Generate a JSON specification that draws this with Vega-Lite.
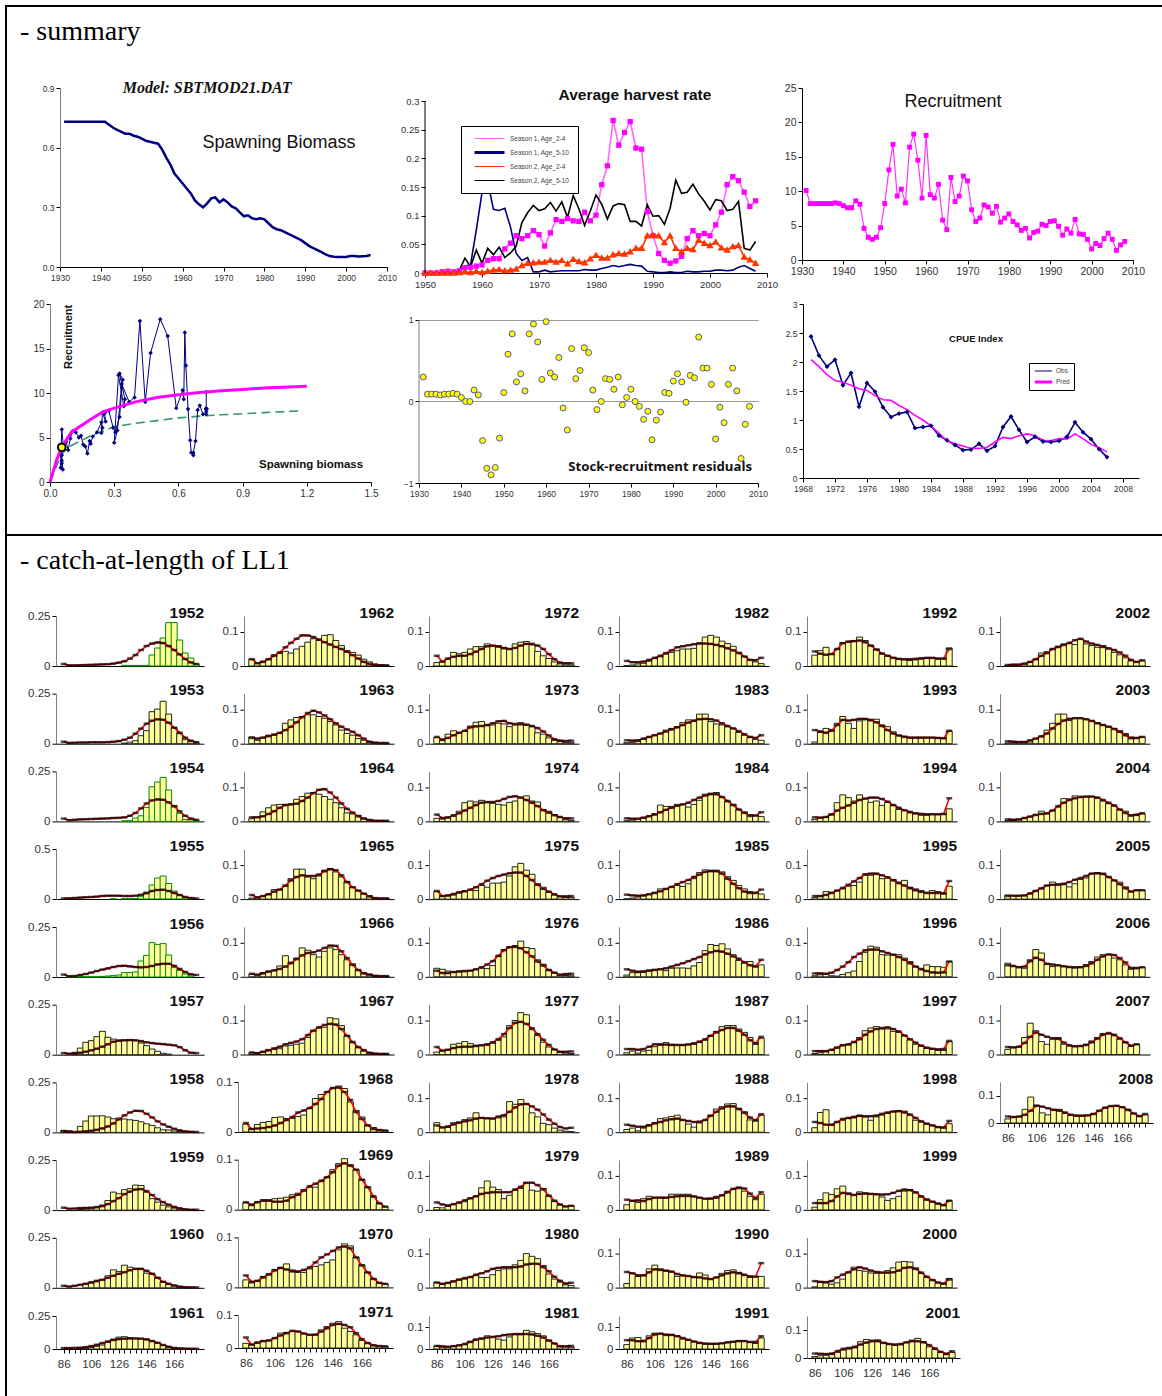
{"$schema":"https://vega.github.io/schema/vega-lite/v6.json","padding":{"left":5,"top":5,"right":0,"bottom":0},"background":"white","spacing":0,
"resolve":{"scale":{"color":"independent","strokeWidth":"independent"},"legend":{"color":"independent","strokeWidth":"independent"}},
"config":{"view":{"stroke":null},"axis":{"grid":false,"labelFont":"Liberation Sans","labelColor":"#333","domainColor":"#000","tickColor":"#000","labelFontSize":11.5,"tickSize":4,"labelPadding":2,"labelFlush":false,"labelOverlap":false},"axisY":{"domainColor":"#808080"},"bar":{"fill":"#FFFF99","stroke":"#222","strokeWidth":1},"line":{"color":"#f00","strokeWidth":1.6},"tick":{"color":"#000","thickness":2.5,"size":6},"header":{"labelFont":"Liberation Sans","labelFontSize":15.5,"labelFontWeight":"bold","labelColor":"#111","labelAnchor":"end","labelAlign":"right","labelPadding":-5},"text":{"font":"Liberation Sans"},"title":{"font":"Liberation Serif","fontSize":28,"fontWeight":"normal","anchor":"start","orient":"bottom","dx":13,"offset":11}},
"hconcat":[
{"width":2,"height":1391,"view":{"fill":"#000"},"data":{"values":[]},"mark":"point","encoding":{}},
{"spacing":0,"resolve":{"scale":{"color":"independent","strokeWidth":"independent"},"legend":{"color":"independent","strokeWidth":"independent"}},"vconcat":[
{"width":1155,"height":2,"view":{"fill":"#000"},"title":"- summary","data":{"values":[]},"mark":"point","encoding":{}},
{"width":1,"height":34,"data":{"values":[]},"mark":"point","encoding":{}},
{"data":{"values":"year,sb,rec,res\n1931,0.73,10.1,0.3\n1932,0.73,8.2,0.09\n1933,0.73,8.2,0.09\n1934,0.73,8.2,0.09\n1935,0.73,8.2,0.08\n1936,0.73,8.2,0.09\n1937,0.73,8.2,0.09\n1938,0.73,8.3,0.1\n1939,0.73,8.2,0.09\n1940,0.73,7.9,0.05\n1941,0.73,7.6,0\n1942,0.715,7.6,0\n1943,0.7,8.6,0.14\n1944,0.69,8.1,0.08\n1945,0.68,4.6,-0.48\n1946,0.67,3.3,-0.82\n1947,0.67,3,-0.9\n1948,0.66,3.3,-0.81\n1949,0.655,4.7,-0.45\n1950,0.645,8.2,0.11\n1951,0.635,13.1,0.58\n1952,0.63,16.8,0.83\n1953,0.625,9.3,0.24\n1954,0.62,10.3,0.34\n1955,0.59,8.3,0.13\n1956,0.55,16.4,0.83\n1957,0.515,18.3,0.95\n1958,0.47,14.5,0.73\n1959,0.445,9,0.27\n1960,0.42,18.1,0.98\n1961,0.395,9.5,0.35\n1962,0.37,9,0.3\n1963,0.335,11,0.54\n1964,0.315,5.8,-0.08\n1965,0.3,4.4,-0.35\n1966,0.32,12,0.65\n1967,0.345,8.5,0.28\n1968,0.35,9.3,0.38\n1969,0.325,12.2,0.66\n1970,0.34,11.5,0.6\n1971,0.325,7.3,0.14\n1972,0.305,5.6,-0.1\n1973,0.295,6.1,0\n1974,0.275,8,0.28\n1975,0.255,7.7,0.27\n1976,0.26,6.8,0.15\n1977,0.245,7.8,0.3\n1978,0.24,5.5,-0.04\n1979,0.245,6.1,0.05\n1980,0.24,6.7,0.15\n1981,0.22,5.6,0\n1982,0.2,5.1,-0.06\n1983,0.19,4.3,-0.22\n1984,0.185,4.6,-0.12\n1985,0.175,3.2,-0.47\n1986,0.165,4,-0.23\n1987,0.155,4.2,-0.13\n1988,0.145,5.2,0.11\n1989,0.135,5,0.1\n1990,0.12,5.6,0.25\n1991,0.105,5.7,0.34\n1992,0.095,4.9,0.24\n1993,0.085,3.6,-0.01\n1994,0.075,4.5,0.32\n1995,0.063,3.9,0.29\n1996,0.055,5.9,0.79\n1997,0.052,3.8,0.41\n1998,0.05,3.7,0.41\n1999,0.05,3,0.21\n2000,0.05,1.6,-0.46\n2001,0.055,2.4,-0.07\n2002,0.055,2.1,-0.26\n2003,0.053,3.1,0.21\n2004,0.054,3.9,0.41\n2005,0.055,3,0.13\n2006,0.06,1.4,-0.7\n2007,,2.2,-0.28\n2008,,2.7,-0.06","format":{"type":"csv","parse":{"year":"number","sb":"number","rec":"number","res":"number"}}},"spacing":0,"resolve":{"scale":{"color":"independent","strokeWidth":"independent"},"legend":{"color":"independent","strokeWidth":"independent"}},"vconcat":[
{"bounds":"flush","spacing":0,"resolve":{"scale":{"color":"independent","strokeWidth":"independent"},"legend":{"color":"independent","strokeWidth":"independent"}},"hconcat":[
{"width":53,"height":1,"data":{"values":[]},"mark":"point","encoding":{}},
{"width":327,"height":179,"layer":[
{"mark":{"type":"line","color":"#000080","strokeWidth":2.5},"encoding":{"x":{"field":"year","type":"quantitative","title":null,"scale":{"domain":[1930,2010],"nice":false},"axis":{"values":[1930,1940,1950,1960,1970,1980,1990,2000,2010],"format":"d","labelFontSize":8.5}},"y":{"field":"sb","type":"quantitative","title":null,"scale":{"domain":[0,0.9],"nice":false},"axis":{"values":[0,0.3,0.6,0.9],"format":".1f","labelFontSize":8.5}}}},
{"data":{"values":[{}]},"mark":{"type":"text","font":"Liberation Serif","fontSize":16,"fontWeight":"bold","fontStyle":"italic","color":"#111"},"encoding":{"x":{"datum":1966},"y":{"datum":0.9},"text":{"value":"Model: SBTMOD21.DAT"}}},
{"data":{"values":[{}]},"mark":{"type":"text","fontSize":18,"color":"#111"},"encoding":{"x":{"datum":1983.6},"y":{"datum":0.623},"text":{"value":"Spawning Biomass"}}}]},
{"width":38,"height":1,"data":{"values":[]},"mark":"point","encoding":{}},
{"data":{"values":"year,\"Season 1, Age_2-4\",\"Season 1, Age_5-10\",\"Season 2, Age_2-4\",\"Season 2, Age_5-10\"\n1950,0,0,0,0\n1951,0,0,0,0\n1952,0,0,0,0\n1953,0.002,0,0,0\n1954,0.003,0,0,0\n1955,0.002,0,0,0\n1956,0.004,0.004,0.001,0.004\n1957,0.009,0.012,0.002,0.026\n1958,0.01,0.015,0.001,0.011\n1959,0.012,0.075,0.003,0.04\n1960,0.014,0.14,0.001,0.017\n1961,0.022,0.16,0.003,0.043\n1962,0.025,0.111,0.005,0.032\n1963,0.025,0.109,0.006,0.045\n1964,0.042,0.113,0.004,0.027\n1965,0.052,0.08,0.005,0.035\n1966,0.065,0.034,0.007,0.047\n1967,0.06,0.022,0.013,0.088\n1968,0.065,0.027,0.017,0.105\n1969,0.074,0.002,0.018,0.118\n1970,0.067,0.002,0.019,0.109\n1971,0.047,0.005,0.019,0.112\n1972,0.07,0.002,0.022,0.123\n1973,0.093,0.003,0.019,0.108\n1974,0.09,0.004,0.022,0.124\n1975,0.095,0.004,0.016,0.097\n1976,0.091,0.004,0.024,0.135\n1977,0.09,0.004,0.02,0.112\n1978,0.106,0.006,0.018,0.083\n1979,0.091,0.005,0.025,0.108\n1980,0.101,0.005,0.031,0.136\n1981,0.154,0.008,0.026,0.12\n1982,0.187,0.01,0.026,0.094\n1983,0.266,0.013,0.032,0.117\n1984,0.223,0.011,0.034,0.121\n1985,0.245,0.013,0.033,0.119\n1986,0.264,0.015,0.037,0.09\n1987,0.218,0.013,0.043,0.09\n1988,0.216,0.012,0.043,0.082\n1989,0.107,0.003,0.065,0.119\n1990,0.065,0.002,0.066,0.099\n1991,0.034,0.001,0.065,0.1\n1992,0.022,0.001,0.053,0.085\n1993,0.017,0.002,0.065,0.113\n1994,0.021,0.001,0.043,0.162\n1995,0.029,0.001,0.037,0.139\n1996,0.06,0.003,0.043,0.141\n1997,0.074,0.002,0.041,0.155\n1998,0.065,0.002,0.057,0.138\n1999,0.069,0.003,0.052,0.125\n2000,0.065,0.003,0.048,0.11\n2001,0.084,0.005,0.054,0.128\n2002,0.106,0.005,0.044,0.126\n2003,0.154,0.004,0.04,0.109\n2004,0.168,0.005,0.046,0.111\n2005,0.161,0.01,0.048,0.125\n2006,0.141,0.013,0.028,0.043\n2007,0.116,0.008,0.023,0.04\n2008,0.126,0.003,0.017,0.055","format":{"type":"csv","parse":null}},"width":342,"height":185,"title":{"text":"Average harvest rate","orient":"top","anchor":"middle","dx":39,"offset":-15,"font":"Liberation Sans","fontSize":15.5,"fontWeight":"bold","color":"#111"},"transform":[{"fold":["Season 1, Age_2-4","Season 1, Age_5-10","Season 2, Age_2-4","Season 2, Age_5-10"],"as":["k","v"]}],"encoding":{"x":{"field":"year","type":"quantitative","title":null,"scale":{"domain":[1950,2010],"nice":false},"axis":{"values":[1950,1960,1970,1980,1990,2000,2010],"format":"d","labelFontSize":9.5}},"y":{"field":"v","type":"quantitative","title":null,"scale":{"domain":[0,0.3227],"nice":false},"axis":{"values":[0,0.05,0.1,0.15,0.2,0.25,0.3],"format":".2~g","labelFontSize":9.5,"domain":false}}},"layer":[
{"mark":{"type":"line"},"encoding":{"color":{"field":"k","type":"nominal","scale":{"range":["#FF66FF","#000080","#FF3300","#000000"]},"legend":{"orient":"none","legendX":36,"legendY":38,"title":null,"strokeColor":"#000","fillColor":"#fff","padding":8,"labelFontSize":6.5,"labelColor":"#444","rowPadding":5,"clipHeight":9,"symbolType":"stroke","symbolSize":900,"symbolOffset":4,"labelOffset":4,"labelFont":"Liberation Sans"}},"strokeWidth":{"field":"k","type":"nominal","scale":{"type":"ordinal","range":[1,3,1,1]},"legend":null}}},
{"transform":[{"filter":"datum.k=='Season 1, Age_2-4'"}],"mark":{"type":"point","shape":"square","filled":true,"color":"#FF00FF","size":28,"opacity":1}},
{"transform":[{"filter":"datum.k=='Season 2, Age_2-4'"}],"mark":{"type":"point","shape":"triangle-up","fill":"#FFFF00","stroke":"#FF3300","size":16,"opacity":1}},
{"transform":[{"filter":"datum.k=='Season 1, Age_2-4'&&datum.year==1950"}],"mark":{"type":"rule","color":"#000"},"encoding":{"y":{"datum":0},"y2":{"datum":0.3}}}]},
{"width":35,"height":1,"data":{"values":[]},"mark":"point","encoding":{}},
{"width":331,"height":172,"title":{"text":"Recruitment","orient":"top","anchor":"middle","dx":-14.5,"offset":-28,"font":"Liberation Sans","fontSize":18,"fontWeight":"normal","color":"#111"},"encoding":{"x":{"field":"year","type":"quantitative","title":null,"scale":{"domain":[1930,2010],"nice":false},"axis":{"values":[1930,1940,1950,1960,1970,1980,1990,2000,2010],"format":"d","labelFontSize":10.5}},"y":{"field":"rec","type":"quantitative","title":null,"scale":{"domain":[0,25],"nice":false},"axis":{"values":[0,5,10,15,20,25],"labelFontSize":10.5,"domainColor":"#000"}}},"layer":[
{"mark":{"type":"line","color":"#FF33FF","strokeWidth":1.2}},
{"mark":{"type":"point","shape":"square","filled":true,"color":"#FF00FF","size":24,"opacity":1}}]}
]},
{"width":1,"height":10,"data":{"values":[]},"mark":"point","encoding":{}},
{"bounds":"flush","spacing":0,"resolve":{"scale":{"color":"independent","strokeWidth":"independent"},"legend":{"color":"independent","strokeWidth":"independent"}},"hconcat":[
{"width":43,"height":1,"data":{"values":[]},"mark":"point","encoding":{}},
{"width":321,"height":178,"layer":[
{"data":{"values":[{"s":0,"r":0},{"s":0.055,"r":3.2},{"s":0.1,"r":4.1},{"s":0.2,"r":5.3},{"s":0.3,"r":6.2},{"s":0.4,"r":6.6},{"s":0.5,"r":6.9},{"s":0.6,"r":7.2},{"s":0.7,"r":7.4},{"s":0.8,"r":7.55},{"s":1,"r":7.8},{"s":1.18,"r":8}]},"mark":{"type":"line","color":"#339966","strokeWidth":1.6,"strokeDash":[9,5]},"encoding":{"x":{"field":"s","type":"quantitative","title":null,"scale":{"domain":[0,1.5],"nice":false},"axis":{"values":[0,0.3,0.6,0.9,1.2,1.5],"format":".1f","labelFontSize":10}},"y":{"field":"r","type":"quantitative","title":null,"scale":{"domain":[0,20],"nice":false},"axis":{"values":[0,5,10,15,20],"labelFontSize":10}}}},
{"mark":{"type":"line","color":"#000080","strokeWidth":1},"encoding":{"x":{"field":"sb","type":"quantitative"},"y":{"field":"rec","type":"quantitative"},"order":{"field":"year"}}},
{"mark":{"type":"point","shape":"diamond","filled":true,"color":"#000080","size":20,"opacity":1},"encoding":{"x":{"field":"sb","type":"quantitative"},"y":{"field":"rec","type":"quantitative"}}},
{"data":{"values":[{"s":0,"r":0},{"s":0.03,"r":2.4},{"s":0.055,"r":3.9},{"s":0.1,"r":5.6},{"s":0.2,"r":7.2},{"s":0.25,"r":7.9},{"s":0.3,"r":8.3},{"s":0.4,"r":9},{"s":0.5,"r":9.5},{"s":0.6,"r":9.8},{"s":0.7,"r":10.05},{"s":0.8,"r":10.25},{"s":0.9,"r":10.4},{"s":1,"r":10.55},{"s":1.2,"r":10.75}]},"mark":{"type":"line","color":"#FF00FF","strokeWidth":3},"encoding":{"x":{"field":"s","type":"quantitative"},"y":{"field":"r","type":"quantitative"}}},
{"data":{"values":[{}]},"mark":{"type":"point","filled":true,"fill":"#FFFF00","stroke":"#000","size":60,"opacity":1},"encoding":{"x":{"datum":0.055},"y":{"datum":3.9}}},
{"data":{"values":[{}]},"mark":{"type":"text","fontSize":11,"fontWeight":"bold","angle":270,"color":"#111"},"encoding":{"x":{"datum":0.089},"y":{"datum":16.3},"text":{"value":"Recruitment"}}},
{"data":{"values":[{}]},"mark":{"type":"text","fontSize":11.5,"fontWeight":"bold","color":"#111"},"encoding":{"x":{"datum":1.22},"y":{"datum":1.92},"text":{"value":"Spawning biomass"}}}]},
{"width":48,"height":1,"data":{"values":[]},"mark":"point","encoding":{}},
{"width":339,"height":179,"layer":[
{"mark":{"type":"point","filled":true,"fill":"#FFFF00","stroke":"#555599","strokeWidth":1,"size":36,"opacity":1},"encoding":{"x":{"field":"year","type":"quantitative","title":null,"scale":{"domain":[1930,2010],"nice":false},"axis":{"values":[1930,1940,1950,1960,1970,1980,1990,2000,2010],"format":"d","labelFontSize":8.5}},"y":{"field":"res","type":"quantitative","title":null,"scale":{"domain":[-1,1.196],"nice":false},"axis":{"values":[-1,0,1],"format":"d","labelFontSize":8.5,"grid":true,"gridColor":"#999","domain":false}}}},
{"data":{"values":[{}]},"mark":{"type":"rule","color":"#808080"},"encoding":{"x":{"datum":1930},"y":{"datum":-1},"y2":{"datum":1}}},
{"data":{"values":[{}]},"mark":{"type":"text","font":"Open Sans","fontSize":13.2,"fontWeight":"bold","color":"#111"},"encoding":{"x":{"datum":1986.9},"y":{"datum":-0.8},"text":{"value":"Stock-recruitment residuals"}}}]},
{"width":45,"height":1,"data":{"values":[]},"mark":"point","encoding":{}},
{"data":{"values":"year,Obs,Pred\n1969,2.44,2.04\n1970,2.11,1.92\n1971,1.92,1.78\n1972,2.04,1.68\n1973,1.6,1.65\n1974,1.81,1.6\n1975,1.23,1.54\n1976,1.64,1.51\n1977,1.49,1.42\n1978,1.22,1.35\n1979,1.05,1.34\n1980,1.11,1.25\n1981,1.14,1.18\n1982,0.86,1.08\n1983,0.88,1\n1984,0.9,0.9\n1985,0.73,0.77\n1986,0.65,0.64\n1987,0.57,0.59\n1988,0.48,0.55\n1989,0.49,0.51\n1990,0.59,0.51\n1991,0.47,0.53\n1992,0.55,0.62\n1993,0.88,0.7\n1994,1.06,0.68\n1995,0.83,0.73\n1996,0.62,0.76\n1997,0.71,0.73\n1998,0.63,0.65\n1999,0.62,0.64\n2000,0.64,0.68\n2001,0.71,0.67\n2002,0.96,0.76\n2003,0.79,0.68\n2004,0.67,0.58\n2005,0.5,0.52\n2006,0.36,0.45","format":{"type":"csv","parse":null}},"width":336,"height":174,"title":{"text":"CPUE Index","orient":"top","anchor":"middle","dx":5,"offset":-43,"font":"Liberation Sans","fontSize":9.5,"fontWeight":"bold","color":"#111"},"transform":[{"fold":["Obs","Pred"],"as":["k","v"]}],"encoding":{"x":{"field":"year","type":"quantitative","title":null,"scale":{"domain":[1968,2010],"nice":false},"axis":{"values":[1968,1972,1976,1980,1984,1988,1992,1996,2000,2004,2008],"format":"d","labelFontSize":8.5}},"y":{"field":"v","type":"quantitative","title":null,"scale":{"domain":[0,3],"nice":false},"axis":{"values":[0,0.5,1,1.5,2,2.5,3],"format":".2~g","labelFontSize":8.5,"domainColor":"#000"}}},"layer":[
{"mark":{"type":"line"},"encoding":{"color":{"field":"k","type":"nominal","scale":{"range":["#000080","#FF00FF"]},"legend":{"orient":"none","legendX":226,"legendY":59,"title":null,"strokeColor":"#000","fillColor":"#fff","padding":4,"labelFontSize":6.5,"labelColor":"#444","rowPadding":3,"clipHeight":8,"symbolType":"stroke","symbolSize":300,"labelOffset":2,"labelFont":"Liberation Sans"}},"strokeWidth":{"field":"k","type":"nominal","scale":{"type":"ordinal","range":[1,3]},"legend":null}}},
{"transform":[{"filter":"datum.k=='Obs'"}],"mark":{"type":"point","shape":"diamond","filled":true,"color":"#000080","size":24,"opacity":1}}]}
]}]},
{"width":1,"height":36,"data":{"values":[]},"mark":"point","encoding":{}},
{"width":1155,"height":2,"view":{"fill":"#000"},"title":"- catch-at-length of LL1","data":{"values":[]},"mark":"point","encoding":{}},
{"width":1,"height":30,"data":{"values":[]},"mark":"point","encoding":{}},
{"data":{"values":"yr,x,o,p\n1952,86,,.01\n1952,90,,.003\n1952,94,,.003\n1952,98,,.004\n1952,102,,.005\n1952,106,,.006\n1952,110,,.007\n1952,114,,.008\n1952,118,,.009\n1952,122,,.012\n1952,126,,.017\n1952,130,.003,.024\n1952,134,.003,.037\n1952,138,.003,.055\n1952,142,.003,.08\n1952,146,.003,.1\n1952,150,.055,.112\n1952,154,.09,.118\n1952,158,.14,.115\n1952,162,.217,.1\n1952,166,.217,.08\n1952,170,.13,.058\n1952,174,.065,.035\n1952,178,.04,.018\n1952,182,.01,.01\n1953,86,,.01\n1953,90,,.004\n1953,94,,.005\n1953,98,,.006\n1953,102,,.006\n1953,106,,.007\n1953,110,,.007\n1953,114,,.007\n1953,118,,.008\n1953,122,,.01\n1953,126,,.013\n1953,130,.003,.02\n1953,134,.008,.03\n1953,138,.015,.05\n1953,142,.04,.075\n1953,146,.065,.1\n1953,150,.16,.115\n1953,154,.173,.122\n1953,158,.212,.12\n1953,162,.148,.105\n1953,166,.08,.08\n1953,170,.05,.055\n1953,174,.02,.03\n1953,178,.01,.015\n1953,182,.005,.008\n1954,86,,.014\n1954,90,,.006\n1954,94,,.008\n1954,98,,.01\n1954,102,,.011\n1954,106,,.012\n1954,110,,.013\n1954,114,,.014\n1954,118,,.015\n1954,122,,.017\n1954,126,,.018\n1954,130,.003,.02\n1954,134,.003,.028\n1954,138,.017,.042\n1954,142,.028,.065\n1954,146,.07,.09\n1954,150,.173,.105\n1954,154,.197,.11\n1954,158,.22,.108\n1954,162,.157,.095\n1954,166,.08,.075\n1954,170,.04,.05\n1954,174,.01,.028\n1954,178,.008,.014\n1954,182,.005,.008\n1955,86,,.005\n1955,90,,.007\n1955,94,,.01\n1955,98,,.014\n1955,102,,.018\n1955,106,,.02\n1955,110,,.024\n1955,114,,.03\n1955,118,,.033\n1955,122,.003,.033\n1955,126,,.033\n1955,130,.003,.03\n1955,134,.003,.03\n1955,138,.005,.033\n1955,142,.027,.042\n1955,146,.07,.058\n1955,150,.14,.08\n1955,154,.21,.09\n1955,158,.23,.093\n1955,162,.155,.08\n1955,166,.08,.06\n1955,170,.04,.04\n1955,174,.015,.02\n1955,178,.01,.01\n1955,182,,.005\n1956,86,,.012\n1956,90,.001,.004\n1956,94,.001,.005\n1956,98,.001,.01\n1956,102,.001,.015\n1956,106,.001,.022\n1956,110,.001,.03\n1956,114,.003,.037\n1956,118,.005,.043\n1956,122,.007,.05\n1956,126,.01,.055\n1956,130,.022,.056\n1956,134,.022,.053\n1956,138,.025,.05\n1956,142,.08,.048\n1956,146,.108,.05\n1956,150,.172,.055\n1956,154,.163,.063\n1956,158,.167,.066\n1956,162,.11,.066\n1956,166,.047,.056\n1956,170,.033,.04\n1956,174,.015,.025\n1956,178,.005,.014\n1956,182,,.01\n1957,86,,.008\n1957,90,,.005\n1957,94,.012,.006\n1957,98,.033,.01\n1957,102,.062,.015\n1957,106,.07,.022\n1957,110,.09,.03\n1957,114,.117,.04\n1957,118,.087,.052\n1957,122,.078,.065\n1957,126,.073,.07\n1957,130,.073,.072\n1957,134,.073,.073\n1957,138,.07,.072\n1957,142,.058,.068\n1957,146,.045,.062\n1957,150,.028,.058\n1957,154,.017,.055\n1957,158,.007,.053\n1957,162,.003,.05\n1957,166,,.047\n1957,170,,.038\n1957,174,,.022\n1957,178,,.01\n1957,182,,.008\n1958,86,.01,.006\n1958,90,.008,.003\n1958,94,,.002\n1958,98,.03,.003\n1958,102,.057,.005\n1958,106,.082,.008\n1958,110,.082,.013\n1958,114,.083,.02\n1958,118,.077,.03\n1958,122,.068,.045\n1958,126,.072,.065\n1958,130,.067,.085\n1958,134,.063,.1\n1958,138,.06,.108\n1958,142,.053,.107\n1958,146,.043,.093\n1958,150,.035,.075\n1958,154,.023,.055\n1958,158,.013,.04\n1958,162,.012,.028\n1958,166,.007,.018\n1958,170,.004,.01\n1958,174,.003,.005\n1958,178,.002,.003\n1958,182,,.002\n1959,86,,.012\n1959,90,,.007\n1959,94,,.008\n1959,98,.003,.01\n1959,102,.005,.011\n1959,106,.006,.012\n1959,110,.012,.015\n1959,114,.025,.02\n1959,118,.048,.03\n1959,122,.09,.045\n1959,126,.082,.06\n1959,130,.102,.08\n1959,134,.107,.092\n1959,138,.125,.103\n1959,142,.123,.105\n1959,146,.09,.095\n1959,150,.057,.075\n1959,154,.04,.055\n1959,158,.025,.04\n1959,162,.016,.027\n1959,166,.01,.016\n1959,170,.005,.009\n1959,174,.003,.004\n1959,178,,.002\n1959,182,,.002\n1960,86,,.01\n1960,90,,.006\n1960,94,,.01\n1960,98,,.015\n1960,102,.02,.02\n1960,106,.023,.028\n1960,110,.03,.035\n1960,114,.04,.04\n1960,118,.06,.05\n1960,122,.09,.06\n1960,126,.082,.07\n1960,130,.113,.078\n1960,134,.103,.088\n1960,138,.092,.095\n1960,142,.093,.095\n1960,146,.073,.085\n1960,150,.07,.07\n1960,154,.05,.05\n1960,158,.03,.03\n1960,162,.016,.02\n1960,166,.01,.012\n1960,170,.005,.006\n1960,174,.003,.003\n1960,178,.002,.002\n1960,182,,.002\n1961,86,,.007\n1961,90,,.007\n1961,94,,.008\n1961,98,.002,.01\n1961,102,.005,.014\n1961,106,.012,.022\n1961,110,.02,.032\n1961,114,.03,.045\n1961,118,.05,.057\n1961,122,.075,.068\n1961,126,.09,.075\n1961,130,.093,.078\n1961,134,.085,.08\n1961,138,.08,.08\n1961,142,.08,.078\n1961,146,.075,.072\n1961,150,.06,.06\n1961,154,.045,.047\n1961,158,.03,.03\n1961,162,.015,.017\n1961,166,.005,.008\n1961,170,.003,.005\n1961,174,.002,.003\n1961,178,,.002\n1961,182,,.002\n1962,86,.02,.02\n1962,90,.008,.008\n1962,94,.014,.012\n1962,98,.02,.02\n1962,102,.033,.03\n1962,106,.037,.04\n1962,110,.043,.055\n1962,114,.038,.068\n1962,118,.05,.08\n1962,122,.058,.09\n1962,126,.07,.09\n1962,130,.08,.085\n1962,134,.075,.078\n1962,138,.09,.07\n1962,142,.092,.063\n1962,146,.075,.056\n1962,150,.06,.05\n1962,154,.045,.042\n1962,158,.04,.032\n1962,162,.032,.022\n1962,166,.02,.012\n1962,170,.012,.006\n1962,174,.006,.003\n1962,178,.003,.002\n1962,182,.002,.002\n1963,86,.02,.017\n1963,90,.01,.015\n1963,94,.017,.018\n1963,98,.025,.022\n1963,102,.025,.027\n1963,106,.03,.032\n1963,110,.06,.04\n1963,114,.07,.05\n1963,118,.077,.063\n1963,122,.08,.078\n1963,126,.085,.09\n1963,130,.085,.097\n1963,134,.08,.092\n1963,138,.075,.083\n1963,142,.065,.072\n1963,146,.055,.06\n1963,150,.04,.05\n1963,154,.03,.042\n1963,158,.025,.035\n1963,162,.015,.025\n1963,166,.01,.015\n1963,170,.006,.006\n1963,174,.004,.003\n1963,178,.002,.002\n1963,182,.002,.002\n1964,86,.008,.012\n1964,90,.012,.012\n1964,94,.028,.015\n1964,98,.04,.022\n1964,102,.048,.03\n1964,106,.05,.04\n1964,110,.05,.048\n1964,114,.05,.05\n1964,118,.065,.052\n1964,122,.073,.06\n1964,126,.083,.07\n1964,130,.085,.083\n1964,134,.08,.093\n1964,138,.073,.095\n1964,142,.065,.085\n1964,146,.055,.07\n1964,150,.04,.053\n1964,154,.025,.037\n1964,158,.022,.026\n1964,162,.018,.015\n1964,166,.01,.008\n1964,170,.005,.004\n1964,174,.002,.002\n1964,178,.001,.002\n1964,182,.001,.002\n1965,86,.003,.012\n1965,90,.004,.005\n1965,94,.008,.009\n1965,98,.015,.014\n1965,102,.028,.022\n1965,106,.028,.028\n1965,110,.038,.04\n1965,114,.06,.055\n1965,118,.088,.065\n1965,122,.088,.07\n1965,126,.065,.068\n1965,130,.06,.068\n1965,134,.068,.072\n1965,138,.085,.082\n1965,142,.09,.088\n1965,146,.08,.085\n1965,150,.065,.07\n1965,154,.052,.05\n1965,158,.035,.035\n1965,162,.025,.025\n1965,166,.016,.016\n1965,170,.01,.008\n1965,174,.003,.003\n1965,178,.002,.002\n1965,182,.002,.002\n1966,86,.007,.009\n1966,90,.007,.006\n1966,94,.012,.01\n1966,98,.017,.015\n1966,102,.018,.019\n1966,106,.032,.023\n1966,110,.062,.03\n1966,114,.043,.04\n1966,118,.055,.052\n1966,122,.085,.063\n1966,126,.078,.07\n1966,130,.065,.072\n1966,134,.058,.077\n1966,138,.075,.085\n1966,142,.085,.092\n1966,146,.08,.091\n1966,150,.065,.075\n1966,154,.05,.055\n1966,158,.038,.035\n1966,162,.02,.02\n1966,166,.012,.01\n1966,170,.008,.006\n1966,174,.003,.003\n1966,178,.002,.002\n1966,182,.002,.002\n1967,86,.005,.006\n1967,90,.003,.004\n1967,94,.007,.008\n1967,98,.015,.012\n1967,102,.015,.018\n1967,106,.017,.023\n1967,110,.025,.03\n1967,114,.027,.034\n1967,118,.03,.038\n1967,122,.033,.045\n1967,126,.05,.057\n1967,130,.07,.07\n1967,134,.078,.08\n1967,138,.08,.087\n1967,142,.108,.09\n1967,146,.105,.088\n1967,150,.085,.075\n1967,154,.055,.055\n1967,158,.035,.037\n1967,162,.02,.022\n1967,166,.01,.013\n1967,170,.005,.005\n1967,174,.002,.003\n1967,178,.001,.002\n1967,182,.001,.002\n1968,86,.016,.018\n1968,90,.006,.006\n1968,94,.015,.007\n1968,98,.019,.008\n1968,102,.021,.01\n1968,106,.029,.013\n1968,110,.03,.018\n1968,114,.027,.024\n1968,118,.027,.03\n1968,122,.031,.039\n1968,126,.034,.043\n1968,130,.047,.048\n1968,134,.067,.056\n1968,138,.075,.066\n1968,142,.08,.08\n1968,146,.088,.088\n1968,150,.092,.089\n1968,154,.087,.08\n1968,158,.06,.064\n1968,162,.043,.04\n1968,166,.03,.026\n1968,170,.014,.013\n1968,174,.009,.006\n1968,178,.004,.004\n1968,182,.003,.003\n1969,86,.014,.015\n1969,90,.008,.01\n1969,94,.016,.015\n1969,98,.02,.018\n1969,102,.02,.018\n1969,106,.022,.016\n1969,110,.023,.016\n1969,114,.025,.018\n1969,118,.03,.025\n1969,122,.033,.03\n1969,126,.04,.038\n1969,130,.045,.047\n1969,134,.045,.052\n1969,138,.056,.058\n1969,142,.065,.065\n1969,146,.08,.075\n1969,150,.092,.088\n1969,154,.102,.093\n1969,158,.09,.088\n1969,162,.08,.08\n1969,166,.06,.06\n1969,170,.045,.045\n1969,174,.025,.027\n1969,178,.012,.013\n1969,182,.006,.006\n1970,86,.015,.024\n1970,90,.009,.011\n1970,94,.014,.013\n1970,98,.022,.02\n1970,102,.027,.026\n1970,106,.036,.034\n1970,110,.04,.039\n1970,114,.047,.036\n1970,118,.035,.032\n1970,122,.03,.032\n1970,126,.03,.035\n1970,130,.037,.04\n1970,134,.042,.05\n1970,138,.045,.06\n1970,142,.05,.066\n1970,146,.055,.073\n1970,150,.075,.08\n1970,154,.087,.082\n1970,158,.083,.078\n1970,162,.06,.06\n1970,166,.045,.044\n1970,170,.03,.03\n1970,174,.017,.017\n1970,178,.009,.009\n1970,182,.007,.007\n1971,86,.014,.032\n1971,90,.01,.01\n1971,94,.018,.016\n1971,98,.022,.021\n1971,102,.023,.023\n1971,106,.03,.03\n1971,110,.045,.038\n1971,114,.047,.045\n1971,118,.05,.052\n1971,122,.05,.05\n1971,126,.043,.044\n1971,130,.04,.04\n1971,134,.042,.04\n1971,138,.055,.05\n1971,142,.065,.06\n1971,146,.075,.07\n1971,150,.08,.073\n1971,154,.06,.07\n1971,158,.05,.063\n1971,162,.04,.045\n1971,166,.023,.027\n1971,170,.015,.015\n1971,174,.009,.008\n1971,178,.005,.006\n1971,182,.005,.005\n1972,86,.01,.03\n1972,90,.012,.013\n1972,94,.02,.022\n1972,98,.04,.027\n1972,102,.036,.03\n1972,106,.04,.03\n1972,110,.05,.035\n1972,114,.057,.042\n1972,118,.057,.05\n1972,122,.065,.058\n1972,126,.06,.06\n1972,130,.06,.057\n1972,134,.055,.052\n1972,138,.05,.05\n1972,142,.065,.053\n1972,146,.07,.06\n1972,150,.072,.065\n1972,154,.062,.065\n1972,158,.043,.06\n1972,162,.03,.05\n1972,166,.022,.035\n1972,170,.012,.02\n1972,174,.006,.01\n1972,178,.003,.008\n1972,182,.003,.008\n1973,86,.018,.02\n1973,90,.009,.012\n1973,94,.028,.017\n1973,98,.038,.025\n1973,102,.033,.032\n1973,106,.036,.038\n1973,110,.052,.048\n1973,114,.063,.051\n1973,118,.065,.052\n1973,122,.053,.055\n1973,126,.055,.06\n1973,130,.06,.066\n1973,134,.058,.067\n1973,138,.05,.06\n1973,142,.055,.058\n1973,146,.062,.057\n1973,150,.055,.056\n1973,154,.05,.052\n1973,158,.032,.046\n1973,162,.028,.036\n1973,166,.017,.024\n1973,170,.01,.013\n1973,174,.006,.009\n1973,178,.003,.008\n1973,182,.003,.009\n1974,86,.009,.02\n1974,90,.007,.01\n1974,94,.01,.012\n1974,98,.015,.018\n1974,102,.03,.024\n1974,106,.055,.032\n1974,110,.06,.04\n1974,114,.057,.048\n1974,118,.062,.055\n1974,122,.055,.057\n1974,126,.053,.057\n1974,130,.05,.06\n1974,134,.048,.066\n1974,138,.056,.072\n1974,142,.06,.074\n1974,146,.07,.07\n1974,150,.075,.063\n1974,154,.06,.055\n1974,158,.057,.045\n1974,162,.035,.033\n1974,166,.03,.026\n1974,170,.02,.018\n1974,174,.012,.013\n1974,178,.005,.009\n1974,182,.003,.009\n1975,86,.022,.024\n1975,90,.008,.009\n1975,94,.009,.011\n1975,98,.012,.015\n1975,102,.018,.02\n1975,106,.025,.023\n1975,110,.027,.028\n1975,114,.025,.035\n1975,118,.04,.044\n1975,122,.035,.054\n1975,126,.047,.062\n1975,130,.047,.068\n1975,134,.05,.072\n1975,138,.068,.076\n1975,142,.095,.078\n1975,146,.105,.078\n1975,150,.085,.068\n1975,154,.073,.056\n1975,158,.045,.042\n1975,162,.035,.03\n1975,166,.02,.022\n1975,170,.012,.014\n1975,174,.008,.008\n1975,178,.005,.008\n1975,182,.005,.009\n1976,86,.025,.018\n1976,90,.022,.011\n1976,94,.017,.011\n1976,98,.014,.014\n1976,102,.014,.016\n1976,106,.015,.017\n1976,110,.018,.018\n1976,114,.022,.022\n1976,118,.025,.028\n1976,122,.024,.036\n1976,126,.033,.046\n1976,130,.06,.062\n1976,134,.08,.078\n1976,138,.088,.087\n1976,142,.092,.088\n1976,146,.105,.084\n1976,150,.086,.072\n1976,154,.083,.06\n1976,158,.05,.045\n1976,162,.037,.033\n1976,166,.02,.02\n1976,170,.012,.012\n1976,174,.006,.006\n1976,178,.004,.008\n1976,182,.003,.009\n1977,86,.007,.022\n1977,90,.012,.011\n1977,94,.014,.014\n1977,98,.03,.019\n1977,102,.033,.022\n1977,106,.038,.023\n1977,110,.032,.023\n1977,114,.027,.025\n1977,118,.027,.027\n1977,122,.027,.03\n1977,126,.033,.036\n1977,130,.042,.045\n1977,134,.052,.06\n1977,138,.085,.078\n1977,142,.1,.093\n1977,146,.123,.096\n1977,150,.117,.09\n1977,154,.073,.077\n1977,158,.056,.06\n1977,162,.036,.043\n1977,166,.022,.028\n1977,170,.015,.015\n1977,174,.006,.008\n1977,178,.004,.008\n1977,182,.003,.009\n1978,86,.028,.02\n1978,90,.013,.014\n1978,94,.014,.017\n1978,98,.028,.023\n1978,102,.03,.028\n1978,106,.037,.032\n1978,110,.042,.035\n1978,114,.057,.04\n1978,118,.043,.042\n1978,122,.04,.041\n1978,126,.04,.04\n1978,130,.042,.046\n1978,134,.045,.05\n1978,138,.09,.06\n1978,142,.082,.073\n1978,146,.096,.082\n1978,150,.083,.083\n1978,154,.057,.076\n1978,158,.045,.066\n1978,162,.026,.052\n1978,166,.022,.037\n1978,170,.012,.025\n1978,174,.006,.015\n1978,178,.003,.011\n1978,182,.002,.013\n1979,86,.007,.022\n1979,90,.006,.016\n1979,94,.01,.013\n1979,98,.016,.017\n1979,102,.02,.022\n1979,106,.024,.028\n1979,110,.035,.034\n1979,114,.04,.04\n1979,118,.065,.047\n1979,122,.085,.05\n1979,126,.067,.052\n1979,130,.06,.052\n1979,134,.033,.052\n1979,138,.043,.052\n1979,142,.058,.06\n1979,146,.063,.068\n1979,150,.08,.08\n1979,154,.058,.08\n1979,158,.055,.073\n1979,162,.063,.06\n1979,166,.04,.042\n1979,170,.025,.027\n1979,174,.015,.016\n1979,178,.01,.01\n1979,182,.012,.012\n1980,86,.015,.015\n1980,90,.009,.011\n1980,94,.012,.014\n1980,98,.02,.018\n1980,102,.025,.023\n1980,106,.025,.028\n1980,110,.03,.031\n1980,114,.035,.038\n1980,118,.03,.042\n1980,122,.03,.048\n1980,126,.038,.055\n1980,130,.05,.058\n1980,134,.055,.06\n1980,138,.055,.06\n1980,142,.067,.06\n1980,146,.08,.062\n1980,150,.1,.068\n1980,154,.092,.07\n1980,158,.085,.07\n1980,162,.065,.06\n1980,166,.04,.048\n1980,170,.025,.032\n1980,174,.016,.02\n1980,178,.008,.012\n1980,182,.006,.014\n1981,86,.012,.014\n1981,90,.009,.012\n1981,94,.01,.01\n1981,98,.012,.013\n1981,102,.015,.017\n1981,106,.02,.023\n1981,110,.035,.032\n1981,114,.045,.042\n1981,118,.05,.047\n1981,122,.06,.052\n1981,126,.055,.055\n1981,130,.045,.058\n1981,134,.04,.063\n1981,138,.055,.066\n1981,142,.065,.068\n1981,146,.065,.068\n1981,150,.085,.068\n1981,154,.078,.066\n1981,158,.07,.06\n1981,162,.06,.052\n1981,166,.04,.038\n1981,170,.025,.025\n1981,174,.015,.012\n1981,178,.01,.012\n1981,182,.008,.014\n1982,86,.001,.015\n1982,90,.003,.011\n1982,94,.006,.011\n1982,98,.008,.013\n1982,102,.014,.018\n1982,106,.022,.024\n1982,110,.027,.03\n1982,114,.035,.038\n1982,118,.04,.046\n1982,122,.045,.055\n1982,126,.05,.058\n1982,130,.05,.061\n1982,134,.052,.064\n1982,138,.068,.066\n1982,142,.085,.066\n1982,146,.09,.065\n1982,150,.085,.062\n1982,154,.073,.058\n1982,158,.066,.052\n1982,162,.058,.046\n1982,166,.04,.038\n1982,170,.028,.028\n1982,174,.018,.018\n1982,178,.012,.017\n1982,182,.007,.024\n1983,86,.003,.01\n1983,90,.004,.009\n1983,94,.006,.01\n1983,98,.013,.015\n1983,102,.02,.02\n1983,106,.025,.025\n1983,110,.03,.03\n1983,114,.04,.036\n1983,118,.045,.042\n1983,122,.05,.048\n1983,126,.062,.055\n1983,130,.07,.062\n1983,134,.065,.068\n1983,138,.087,.072\n1983,142,.087,.073\n1983,146,.065,.072\n1983,150,.058,.068\n1983,154,.055,.06\n1983,158,.05,.052\n1983,162,.045,.045\n1983,166,.033,.037\n1983,170,.025,.028\n1983,174,.018,.02\n1983,178,.012,.017\n1983,182,.01,.025\n1984,86,.002,.009\n1984,90,.004,.008\n1984,94,.008,.008\n1984,98,.01,.011\n1984,102,.016,.015\n1984,106,.023,.02\n1984,110,.048,.027\n1984,114,.044,.034\n1984,118,.044,.04\n1984,122,.05,.046\n1984,126,.05,.05\n1984,130,.042,.055\n1984,134,.05,.063\n1984,138,.062,.07\n1984,142,.08,.076\n1984,146,.083,.08\n1984,150,.085,.08\n1984,154,.07,.072\n1984,158,.058,.06\n1984,162,.05,.048\n1984,166,.035,.035\n1984,170,.028,.025\n1984,174,.02,.016\n1984,178,.018,.017\n1984,182,.014,.027\n1985,86,.001,.013\n1985,90,.003,.011\n1985,94,.006,.01\n1985,98,.01,.011\n1985,102,.015,.014\n1985,106,.02,.018\n1985,110,.03,.023\n1985,114,.03,.03\n1985,118,.035,.036\n1985,122,.04,.044\n1985,126,.037,.05\n1985,130,.045,.056\n1985,134,.06,.065\n1985,138,.078,.072\n1985,142,.086,.08\n1985,146,.085,.082\n1985,150,.085,.082\n1985,154,.08,.075\n1985,158,.066,.06\n1985,162,.055,.045\n1985,166,.04,.032\n1985,170,.03,.022\n1985,174,.022,.018\n1985,178,.02,.018\n1985,182,.015,.028\n1986,86,.005,.022\n1986,90,.012,.018\n1986,94,.012,.015\n1986,98,.013,.016\n1986,102,.02,.018\n1986,106,.022,.02\n1986,110,.023,.022\n1986,114,.018,.025\n1986,118,.025,.03\n1986,122,.026,.035\n1986,126,.026,.04\n1986,130,.025,.046\n1986,134,.032,.052\n1986,138,.042,.058\n1986,142,.077,.066\n1986,146,.095,.072\n1986,150,.092,.076\n1986,154,.097,.074\n1986,158,.082,.068\n1986,162,.065,.06\n1986,166,.048,.053\n1986,170,.04,.043\n1986,174,.045,.034\n1986,178,.032,.03\n1986,182,.035,.05\n1987,86,.005,.016\n1987,90,.01,.016\n1987,94,.004,.014\n1987,98,.01,.016\n1987,102,.012,.023\n1987,106,.023,.03\n1987,110,.027,.03\n1987,114,.035,.029\n1987,118,.03,.028\n1987,122,.028,.028\n1987,126,.027,.028\n1987,130,.028,.03\n1987,134,.03,.033\n1987,138,.035,.038\n1987,142,.042,.045\n1987,146,.056,.055\n1987,150,.068,.065\n1987,154,.082,.072\n1987,158,.085,.078\n1987,162,.085,.078\n1987,166,.075,.07\n1987,170,.065,.058\n1987,174,.05,.042\n1987,178,.03,.033\n1987,182,.048,.052\n1988,86,.008,.022\n1988,90,.012,.019\n1988,94,.004,.016\n1988,98,.012,.016\n1988,102,.022,.02\n1988,106,.028,.026\n1988,110,.04,.03\n1988,114,.042,.035\n1988,118,.046,.038\n1988,122,.05,.04\n1988,126,.035,.036\n1988,130,.024,.033\n1988,134,.015,.03\n1988,138,.027,.031\n1988,142,.035,.036\n1988,146,.05,.048\n1988,150,.068,.06\n1988,154,.075,.07\n1988,158,.083,.076\n1988,162,.084,.076\n1988,166,.07,.068\n1988,170,.06,.057\n1988,174,.036,.043\n1988,178,.033,.035\n1988,182,.05,.053\n1989,86,.015,.03\n1989,90,.025,.027\n1989,94,.022,.028\n1989,98,.033,.026\n1989,102,.04,.032\n1989,106,.036,.036\n1989,110,.036,.036\n1989,114,.035,.036\n1989,118,.046,.038\n1989,122,.046,.04\n1989,126,.046,.041\n1989,130,.046,.041\n1989,134,.038,.04\n1989,138,.035,.036\n1989,142,.033,.033\n1989,146,.035,.033\n1989,150,.04,.036\n1989,154,.042,.043\n1989,158,.055,.052\n1989,162,.06,.062\n1989,166,.062,.066\n1989,170,.055,.063\n1989,174,.04,.048\n1989,178,.03,.035\n1989,182,.046,.052\n1990,86,.012,.046\n1990,90,.042,.042\n1990,94,.033,.036\n1990,98,.035,.036\n1990,102,.055,.045\n1990,106,.066,.054\n1990,110,.055,.052\n1990,114,.048,.05\n1990,118,.046,.047\n1990,122,.033,.04\n1990,126,.035,.036\n1990,130,.033,.034\n1990,134,.03,.031\n1990,138,.043,.03\n1990,142,.037,.027\n1990,146,.025,.025\n1990,150,.03,.03\n1990,154,.042,.036\n1990,158,.05,.042\n1990,162,.052,.045\n1990,166,.045,.042\n1990,170,.035,.038\n1990,174,.03,.033\n1990,178,.033,.032\n1990,182,.033,.072\n1991,86,.02,.04\n1991,90,.05,.04\n1991,94,.052,.035\n1991,98,.04,.035\n1991,102,.06,.05\n1991,106,.072,.066\n1991,110,.07,.07\n1991,114,.068,.064\n1991,118,.066,.064\n1991,122,.06,.058\n1991,126,.045,.05\n1991,130,.04,.042\n1991,134,.033,.034\n1991,138,.025,.028\n1991,142,.022,.025\n1991,146,.022,.024\n1991,150,.022,.024\n1991,154,.025,.026\n1991,158,.03,.03\n1991,162,.033,.033\n1991,166,.038,.036\n1991,170,.035,.036\n1991,174,.03,.032\n1991,178,.025,.032\n1991,182,.05,.058\n1992,86,.032,.043\n1992,90,.045,.036\n1992,94,.055,.033\n1992,98,.035,.035\n1992,102,.05,.05\n1992,106,.068,.067\n1992,110,.07,.072\n1992,114,.075,.073\n1992,118,.085,.075\n1992,122,.075,.07\n1992,126,.06,.06\n1992,130,.05,.048\n1992,134,.035,.037\n1992,138,.03,.03\n1992,142,.025,.024\n1992,146,.02,.021\n1992,150,.018,.02\n1992,154,.016,.02\n1992,158,.018,.021\n1992,162,.02,.023\n1992,166,.022,.024\n1992,170,.023,.024\n1992,174,.02,.022\n1992,178,.02,.022\n1992,182,.053,.05\n1993,86,.005,.04\n1993,90,.033,.036\n1993,94,.045,.032\n1993,98,.042,.038\n1993,102,.06,.055\n1993,106,.08,.07\n1993,110,.06,.068\n1993,114,.045,.07\n1993,118,.067,.073\n1993,122,.07,.073\n1993,126,.067,.07\n1993,130,.072,.063\n1993,134,.055,.052\n1993,138,.05,.04\n1993,142,.035,.03\n1993,146,.025,.024\n1993,150,.022,.02\n1993,154,.017,.018\n1993,158,.017,.018\n1993,162,.017,.018\n1993,166,.018,.018\n1993,170,.018,.018\n1993,174,.016,.017\n1993,178,.015,.016\n1993,182,.037,.038\n1994,86,.006,.012\n1994,90,.01,.011\n1994,94,.012,.013\n1994,98,.022,.02\n1994,102,.055,.032\n1994,106,.078,.04\n1994,110,.07,.047\n1994,114,.06,.055\n1994,118,.078,.063\n1994,122,.067,.067\n1994,126,.056,.07\n1994,130,.06,.07\n1994,134,.047,.066\n1994,138,.056,.058\n1994,142,.048,.048\n1994,146,.035,.04\n1994,150,.032,.033\n1994,154,.025,.028\n1994,158,.022,.024\n1994,162,.018,.022\n1994,166,.018,.021\n1994,170,.02,.021\n1994,174,.02,.021\n1994,178,.02,.022\n1994,182,.037,.068\n1995,86,.004,.009\n1995,90,.008,.009\n1995,94,.022,.012\n1995,98,.02,.018\n1995,102,.025,.025\n1995,106,.03,.033\n1995,110,.038,.042\n1995,114,.04,.052\n1995,118,.05,.062\n1995,122,.07,.073\n1995,126,.07,.075\n1995,130,.072,.075\n1995,134,.06,.07\n1995,138,.062,.064\n1995,142,.058,.055\n1995,146,.05,.047\n1995,150,.055,.04\n1995,154,.035,.032\n1995,158,.03,.026\n1995,162,.025,.021\n1995,166,.02,.018\n1995,170,.025,.018\n1995,174,.022,.018\n1995,178,.015,.017\n1995,182,.038,.053\n1996,86,.003,.01\n1996,90,.006,.01\n1996,94,.008,.009\n1996,98,.003,.012\n1996,102,.002,.02\n1996,106,.007,.03\n1996,110,.012,.043\n1996,114,.017,.058\n1996,118,.045,.068\n1996,122,.072,.078\n1996,126,.09,.08\n1996,130,.087,.08\n1996,134,.065,.075\n1996,138,.064,.07\n1996,142,.065,.065\n1996,146,.065,.058\n1996,150,.055,.05\n1996,154,.045,.04\n1996,158,.03,.03\n1996,162,.025,.022\n1996,166,.035,.017\n1996,170,.03,.013\n1996,174,.03,.012\n1996,178,.028,.013\n1996,182,.045,.045\n1997,86,.003,.01\n1997,90,.005,.01\n1997,94,.008,.01\n1997,98,.012,.014\n1997,102,.022,.02\n1997,106,.028,.027\n1997,110,.028,.03\n1997,114,.035,.037\n1997,118,.05,.045\n1997,122,.07,.058\n1997,126,.078,.068\n1997,130,.082,.075\n1997,134,.075,.078\n1997,138,.075,.08\n1997,142,.068,.075\n1997,146,.065,.068\n1997,150,.055,.056\n1997,154,.043,.045\n1997,158,.03,.035\n1997,162,.025,.026\n1997,166,.018,.02\n1997,170,.015,.017\n1997,174,.012,.015\n1997,178,.012,.016\n1997,182,.038,.04\n1998,86,.013,.03\n1998,90,.058,.027\n1998,94,.066,.022\n1998,98,.02,.022\n1998,102,.03,.03\n1998,106,.035,.039\n1998,110,.04,.042\n1998,114,.042,.045\n1998,118,.05,.048\n1998,122,.045,.047\n1998,126,.035,.047\n1998,130,.045,.049\n1998,134,.05,.054\n1998,138,.055,.058\n1998,142,.06,.061\n1998,146,.063,.062\n1998,150,.062,.058\n1998,154,.05,.052\n1998,158,.035,.042\n1998,162,.03,.032\n1998,166,.025,.025\n1998,170,.02,.02\n1998,174,.015,.015\n1998,178,.012,.014\n1998,182,.025,.033\n1999,86,.008,.02\n1999,90,.03,.02\n1999,94,.05,.02\n1999,98,.045,.026\n1999,102,.062,.04\n1999,106,.07,.05\n1999,110,.05,.047\n1999,114,.045,.044\n1999,118,.053,.047\n1999,122,.05,.048\n1999,126,.048,.047\n1999,130,.045,.046\n1999,134,.038,.045\n1999,138,.028,.046\n1999,142,.033,.05\n1999,146,.04,.056\n1999,150,.055,.06\n1999,154,.06,.058\n1999,158,.05,.052\n1999,162,.038,.04\n1999,166,.032,.03\n1999,170,.025,.024\n1999,174,.02,.018\n1999,178,.013,.014\n1999,182,.027,.027\n2000,86,.002,.019\n2000,90,.015,.017\n2000,94,.014,.016\n2000,98,.01,.019\n2000,102,.014,.03\n2000,106,.025,.038\n2000,110,.045,.045\n2000,114,.06,.054\n2000,118,.05,.06\n2000,122,.048,.056\n2000,126,.043,.05\n2000,130,.042,.046\n2000,134,.045,.044\n2000,138,.05,.044\n2000,142,.058,.045\n2000,146,.075,.05\n2000,150,.077,.058\n2000,154,.075,.06\n2000,158,.058,.055\n2000,162,.042,.044\n2000,166,.03,.032\n2000,170,.023,.022\n2000,174,.014,.015\n2000,178,.01,.012\n2000,182,.027,.024\n2001,86,.005,.016\n2001,90,.008,.015\n2001,94,.01,.014\n2001,98,.012,.016\n2001,102,.02,.025\n2001,106,.028,.033\n2001,110,.032,.036\n2001,114,.036,.04\n2001,118,.058,.048\n2001,122,.066,.055\n2001,126,.064,.06\n2001,130,.065,.06\n2001,134,.055,.054\n2001,138,.048,.05\n2001,142,.045,.048\n2001,146,.047,.05\n2001,150,.055,.056\n2001,154,.064,.06\n2001,158,.07,.06\n2001,162,.058,.056\n2001,166,.04,.046\n2001,170,.03,.034\n2001,174,.02,.022\n2001,178,.012,.015\n2001,182,.02,.024\n2002,86,.002,.003\n2002,90,.003,.004\n2002,94,.004,.004\n2002,98,.006,.007\n2002,102,.012,.012\n2002,106,.02,.02\n2002,110,.038,.03\n2002,114,.042,.038\n2002,118,.05,.05\n2002,122,.058,.056\n2002,126,.065,.062\n2002,130,.066,.068\n2002,134,.063,.076\n2002,138,.078,.08\n2002,142,.065,.072\n2002,146,.06,.066\n2002,150,.055,.062\n2002,154,.06,.056\n2002,158,.05,.052\n2002,162,.04,.047\n2002,166,.033,.04\n2002,170,.024,.03\n2002,174,.015,.018\n2002,178,.012,.012\n2002,182,.015,.017\n2003,86,.002,.007\n2003,90,.003,.006\n2003,94,.004,.005\n2003,98,.004,.005\n2003,102,.005,.01\n2003,106,.015,.015\n2003,110,.02,.022\n2003,114,.04,.03\n2003,118,.06,.045\n2003,122,.087,.058\n2003,126,.087,.068\n2003,130,.068,.073\n2003,134,.075,.075\n2003,138,.075,.075\n2003,142,.072,.072\n2003,146,.068,.067\n2003,150,.062,.06\n2003,154,.055,.055\n2003,158,.05,.05\n2003,162,.045,.043\n2003,166,.038,.035\n2003,170,.03,.025\n2003,174,.02,.016\n2003,178,.015,.017\n2003,182,.02,.02\n2004,86,.002,.006\n2004,90,.003,.005\n2004,94,.005,.006\n2004,98,.01,.01\n2004,102,.015,.014\n2004,106,.02,.019\n2004,110,.03,.022\n2004,114,.022,.024\n2004,118,.032,.032\n2004,122,.042,.045\n2004,126,.067,.055\n2004,130,.066,.063\n2004,134,.075,.068\n2004,138,.07,.072\n2004,142,.072,.073\n2004,146,.073,.073\n2004,150,.068,.07\n2004,154,.06,.063\n2004,158,.052,.055\n2004,162,.045,.047\n2004,166,.035,.035\n2004,170,.03,.025\n2004,174,.02,.017\n2004,178,.017,.02\n2004,182,.022,.024\n2005,86,.012,.009\n2005,90,.01,.01\n2005,94,.01,.01\n2005,98,.01,.011\n2005,102,.015,.017\n2005,106,.025,.024\n2005,110,.03,.032\n2005,114,.04,.04\n2005,118,.05,.042\n2005,122,.045,.042\n2005,126,.042,.045\n2005,130,.036,.05\n2005,134,.045,.057\n2005,138,.058,.062\n2005,142,.062,.068\n2005,146,.075,.075\n2005,150,.078,.076\n2005,154,.076,.074\n2005,158,.065,.065\n2005,162,.055,.055\n2005,166,.05,.044\n2005,170,.036,.032\n2005,174,.022,.022\n2005,178,.026,.026\n2005,182,.026,.026\n2006,86,.04,.034\n2006,90,.03,.032\n2006,94,.03,.028\n2006,98,.025,.03\n2006,102,.05,.046\n2006,106,.08,.056\n2006,110,.07,.05\n2006,114,.038,.038\n2006,118,.03,.036\n2006,122,.033,.034\n2006,126,.03,.031\n2006,130,.027,.029\n2006,134,.026,.028\n2006,138,.03,.028\n2006,142,.036,.032\n2006,146,.045,.04\n2006,150,.058,.05\n2006,154,.065,.06\n2006,158,.065,.066\n2006,162,.055,.064\n2006,166,.05,.055\n2006,170,.035,.042\n2006,174,.022,.026\n2006,178,.028,.025\n2006,182,.028,.028\n2007,86,.015,.022\n2007,90,.02,.021\n2007,94,.022,.023\n2007,98,.05,.034\n2007,102,.092,.052\n2007,106,.07,.065\n2007,110,.038,.058\n2007,114,.03,.052\n2007,118,.045,.048\n2007,122,.05,.046\n2007,126,.03,.035\n2007,130,.025,.027\n2007,134,.025,.024\n2007,138,.025,.025\n2007,142,.03,.028\n2007,146,.04,.036\n2007,150,.05,.047\n2007,154,.062,.058\n2007,158,.06,.063\n2007,162,.055,.058\n2007,166,.045,.048\n2007,170,.035,.036\n2007,174,.024,.026\n2007,178,.03,.03\n2008,86,.015,.024\n2008,90,.02,.022\n2008,94,.022,.024\n2008,98,.05,.03\n2008,102,.095,.045\n2008,106,.065,.063\n2008,110,.037,.06\n2008,114,.03,.054\n2008,118,.05,.048\n2008,122,.05,.045\n2008,126,.035,.038\n2008,130,.028,.03\n2008,134,.025,.027\n2008,138,.025,.027\n2008,142,.028,.028\n2008,146,.035,.033\n2008,150,.045,.045\n2008,154,.055,.056\n2008,158,.06,.062\n2008,162,.062,.063\n2008,166,.058,.058\n2008,170,.05,.048\n2008,174,.035,.035\n2008,178,.025,.025\n2008,182,.03,.033","format":{"type":"csv","parse":{"yr":"number","x":"number","o":"number","p":"number"}}},"spacing":0,"hconcat":[
{"width":20,"height":1,"data":{"values":[]},"mark":"point","encoding":{}},
{"spacing":11,"vconcat":[
{"transform":[{"filter":{"field":"yr","range":[1952,1954]}}],"facet":{"field":"yr","title":null},"columns":1,"bounds":"flush","spacing":27.7,"resolve":{"axis":{"x":"independent"}},"spec":{"width":148,"height":50,"encoding":{"x":{"field":"x","type":"quantitative","title":null,"scale":{"domain":[84,184],"nice":false},"axis":{"labels":false,"ticks":false}}},"layer":[{"mark":{"type":"bar","width":6,"orient":"vertical"},"encoding":{"y":{"field":"o","type":"quantitative","title":null,"scale":{"domain":[0,0.25],"nice":false},"axis":{"values":[0,0.25],"format":".2~g"}},"stroke":{"condition":{"test":"datum.yr!=1953","value":"#080"},"value":"#222"}}},{"mark":"line","encoding":{"y":{"field":"p","type":"quantitative"}}},{"mark":{"type":"tick","orient":"horizontal"},"encoding":{"y":{"field":"p","type":"quantitative"}}}]}},
{"transform":[{"filter":{"field":"yr","range":[1955,1955]}}],"facet":{"field":"yr","title":null},"columns":1,"bounds":"flush","spacing":27.7,"resolve":{"axis":{"x":"independent"}},"spec":{"width":148,"height":50,"encoding":{"x":{"field":"x","type":"quantitative","title":null,"scale":{"domain":[84,184],"nice":false},"axis":{"labels":false,"ticks":false}}},"layer":[{"mark":{"type":"bar","width":6,"orient":"vertical","stroke":"#080"},"encoding":{"y":{"field":"o","type":"quantitative","title":null,"scale":{"domain":[0,0.5],"nice":false},"axis":{"values":[0,0.25,0.5],"format":".2~g"}}}},{"mark":"line","encoding":{"y":{"field":"p","type":"quantitative"}}},{"mark":{"type":"tick","orient":"horizontal"},"encoding":{"y":{"field":"p","type":"quantitative"}}}]}},
{"transform":[{"filter":{"field":"yr","range":[1956,1960]}}],"facet":{"field":"yr","title":null},"columns":1,"bounds":"flush","spacing":27.7,"resolve":{"axis":{"x":"independent"}},"spec":{"width":148,"height":50,"encoding":{"x":{"field":"x","type":"quantitative","title":null,"scale":{"domain":[84,184],"nice":false},"axis":{"labels":false,"ticks":false}}},"layer":[{"mark":{"type":"bar","width":6,"orient":"vertical"},"encoding":{"y":{"field":"o","type":"quantitative","title":null,"scale":{"domain":[0,0.25],"nice":false},"axis":{"values":[0,0.25],"format":".2~g"}},"stroke":{"condition":{"test":"datum.yr==1956","value":"#080"},"value":"#222"}}},{"mark":"line","encoding":{"y":{"field":"p","type":"quantitative"}}},{"mark":{"type":"tick","orient":"horizontal"},"encoding":{"y":{"field":"p","type":"quantitative"}}}]}},
{"transform":[{"filter":{"field":"yr","range":[1961,1961]}}],"facet":{"field":"yr","title":null},"columns":1,"bounds":"flush","spec":{"width":148,"height":33,"encoding":{"x":{"field":"x","type":"quantitative","title":null,"scale":{"domain":[84,184],"nice":false},"axis":{"labelPadding":5,"values":[86,90,94,98,102,106,110,114,118,122,126,130,134,138,142,146,150,154,158,162,166,170,174,178,182],"labelExpr":"(datum.value-86)%20==0&&datum.value<180?datum.label:''"}}},"layer":[{"mark":{"type":"bar","width":6,"orient":"vertical"},"encoding":{"y":{"field":"o","type":"quantitative","title":null,"scale":{"domain":[0,0.25],"nice":false},"axis":{"values":[0,0.25],"format":".2~g"}}}},{"mark":"line","encoding":{"y":{"field":"p","type":"quantitative"}}},{"mark":{"type":"tick","orient":"horizontal"},"encoding":{"y":{"field":"p","type":"quantitative"}}}]}}
]},
{"width":12,"height":1,"data":{"values":[]},"mark":"point","encoding":{}},
{"spacing":11,"vconcat":[
{"spacing":-17,"hconcat":[{"width":1,"height":1,"data":{"values":[]},"mark":"point","encoding":{}},
{"transform":[{"filter":{"field":"yr","range":[1962,1967]}}],"facet":{"field":"yr","title":null},"columns":1,"bounds":"flush","spacing":27.7,"resolve":{"axis":{"x":"independent"}},"spec":{"width":150,"height":50,"encoding":{"x":{"field":"x","type":"quantitative","title":null,"scale":{"domain":[84,184],"nice":false},"axis":{"labels":false,"ticks":false}}},"layer":[{"mark":{"type":"bar","width":6,"orient":"vertical"},"encoding":{"y":{"field":"o","type":"quantitative","title":null,"scale":{"domain":[0,0.147],"nice":false},"axis":{"values":[0,0.1],"format":".2~g"}}}},{"mark":"line","encoding":{"y":{"field":"p","type":"quantitative"}}},{"mark":{"type":"tick","orient":"horizontal"},"encoding":{"y":{"field":"p","type":"quantitative"}}}]}}]},
{"transform":[{"filter":{"field":"yr","range":[1968,1970]}}],"facet":{"field":"yr","title":null},"columns":1,"bounds":"flush","spacing":27.7,"resolve":{"axis":{"x":"independent"}},"spec":{"width":155,"height":50,"encoding":{"x":{"field":"x","type":"quantitative","title":null,"scale":{"domain":[84,184],"nice":false},"axis":{"labels":false,"ticks":false}}},"layer":[{"mark":{"type":"bar","width":6.2,"orient":"vertical"},"encoding":{"y":{"field":"o","type":"quantitative","title":null,"scale":{"domain":[0,0.1],"nice":false},"axis":{"values":[0,0.1],"format":".2~g"}}}},{"mark":"line","encoding":{"y":{"field":"p","type":"quantitative"}}},{"mark":{"type":"tick","orient":"horizontal"},"encoding":{"y":{"field":"p","type":"quantitative"}}}]}},
{"transform":[{"filter":{"field":"yr","range":[1971,1971]}}],"facet":{"field":"yr","title":null},"columns":1,"bounds":"flush","spec":{"width":155,"height":33,"encoding":{"x":{"field":"x","type":"quantitative","title":null,"scale":{"domain":[84,184],"nice":false},"axis":{"labelPadding":5,"values":[86,90,94,98,102,106,110,114,118,122,126,130,134,138,142,146,150,154,158,162,166,170,174,178,182],"labelExpr":"(datum.value-86)%20==0&&datum.value<180?datum.label:''"}}},"layer":[{"mark":{"type":"bar","width":6.2,"orient":"vertical"},"encoding":{"y":{"field":"o","type":"quantitative","title":null,"scale":{"domain":[0,0.1],"nice":false},"axis":{"values":[0,0.1],"format":".2~g"}}}},{"mark":"line","encoding":{"y":{"field":"p","type":"quantitative"}}},{"mark":{"type":"tick","orient":"horizontal"},"encoding":{"y":{"field":"p","type":"quantitative"}}}]}}
]},
{"width":13,"height":1,"data":{"values":[]},"mark":"point","encoding":{}},
{"spacing":11,"vconcat":[
{"transform":[{"filter":{"field":"yr","range":[1972,1980]}}],"facet":{"field":"yr","title":null},"columns":1,"bounds":"flush","spacing":27.7,"resolve":{"axis":{"x":"independent"}},"spec":{"width":150,"height":50,"encoding":{"x":{"field":"x","type":"quantitative","title":null,"scale":{"domain":[84,184],"nice":false},"axis":{"labels":false,"ticks":false}}},"layer":[{"mark":{"type":"bar","width":6,"orient":"vertical"},"encoding":{"y":{"field":"o","type":"quantitative","title":null,"scale":{"domain":[0,0.147],"nice":false},"axis":{"values":[0,0.1],"format":".2~g"}}}},{"mark":"line","encoding":{"y":{"field":"p","type":"quantitative"}}},{"mark":{"type":"tick","orient":"horizontal"},"encoding":{"y":{"field":"p","type":"quantitative"}}}]}},
{"transform":[{"filter":{"field":"yr","range":[1981,1981]}}],"facet":{"field":"yr","title":null},"columns":1,"bounds":"flush","spec":{"width":150,"height":33,"encoding":{"x":{"field":"x","type":"quantitative","title":null,"scale":{"domain":[84,184],"nice":false},"axis":{"labelPadding":5,"values":[86,90,94,98,102,106,110,114,118,122,126,130,134,138,142,146,150,154,158,162,166,170,174,178,182],"labelExpr":"(datum.value-86)%20==0&&datum.value<180?datum.label:''"}}},"layer":[{"mark":{"type":"bar","width":6,"orient":"vertical"},"encoding":{"y":{"field":"o","type":"quantitative","title":null,"scale":{"domain":[0,0.15],"nice":false},"axis":{"values":[0,0.1],"format":".2~g"}}}},{"mark":"line","encoding":{"y":{"field":"p","type":"quantitative"}}},{"mark":{"type":"tick","orient":"horizontal"},"encoding":{"y":{"field":"p","type":"quantitative"}}}]}}
]},
{"width":18,"height":1,"data":{"values":[]},"mark":"point","encoding":{}},
{"spacing":11,"vconcat":[
{"transform":[{"filter":{"field":"yr","range":[1982,1990]}}],"facet":{"field":"yr","title":null},"columns":1,"bounds":"flush","spacing":27.7,"resolve":{"axis":{"x":"independent"}},"spec":{"width":150,"height":50,"encoding":{"x":{"field":"x","type":"quantitative","title":null,"scale":{"domain":[84,184],"nice":false},"axis":{"labels":false,"ticks":false}}},"layer":[{"mark":{"type":"bar","width":6,"orient":"vertical"},"encoding":{"y":{"field":"o","type":"quantitative","title":null,"scale":{"domain":[0,0.147],"nice":false},"axis":{"values":[0,0.1],"format":".2~g"}}}},{"mark":"line","encoding":{"y":{"field":"p","type":"quantitative"}}},{"mark":{"type":"tick","orient":"horizontal"},"encoding":{"y":{"field":"p","type":"quantitative"}}}]}},
{"transform":[{"filter":{"field":"yr","range":[1991,1991]}}],"facet":{"field":"yr","title":null},"columns":1,"bounds":"flush","spec":{"width":150,"height":33,"encoding":{"x":{"field":"x","type":"quantitative","title":null,"scale":{"domain":[84,184],"nice":false},"axis":{"labelPadding":5,"values":[86,90,94,98,102,106,110,114,118,122,126,130,134,138,142,146,150,154,158,162,166,170,174,178,182],"labelExpr":"(datum.value-86)%20==0&&datum.value<180?datum.label:''"}}},"layer":[{"mark":{"type":"bar","width":6,"orient":"vertical"},"encoding":{"y":{"field":"o","type":"quantitative","title":null,"scale":{"domain":[0,0.15],"nice":false},"axis":{"values":[0,0.1],"format":".2~g"}}}},{"mark":"line","encoding":{"y":{"field":"p","type":"quantitative"}}},{"mark":{"type":"tick","orient":"horizontal"},"encoding":{"y":{"field":"p","type":"quantitative"}}}]}}
]},
{"width":16,"height":1,"data":{"values":[]},"mark":"point","encoding":{}},
{"spacing":11,"vconcat":[
{"transform":[{"filter":{"field":"yr","range":[1992,2000]}}],"facet":{"field":"yr","title":null},"columns":1,"bounds":"flush","spacing":27.7,"resolve":{"axis":{"x":"independent"}},"spec":{"width":150,"height":50,"encoding":{"x":{"field":"x","type":"quantitative","title":null,"scale":{"domain":[84,184],"nice":false},"axis":{"labels":false,"ticks":false}}},"layer":[{"mark":{"type":"bar","width":6,"orient":"vertical"},"encoding":{"y":{"field":"o","type":"quantitative","title":null,"scale":{"domain":[0,0.147],"nice":false},"axis":{"values":[0,0.1],"format":".2~g"}}}},{"mark":"line","encoding":{"y":{"field":"p","type":"quantitative"}}},{"mark":{"type":"tick","orient":"horizontal"},"encoding":{"y":{"field":"p","type":"quantitative"}}}]}},
{"transform":[{"filter":{"field":"yr","range":[2001,2001]}}],"facet":{"field":"yr","title":null},"columns":1,"bounds":"flush","spec":{"width":153,"height":42,"encoding":{"x":{"field":"x","type":"quantitative","title":null,"scale":{"domain":[84,184],"nice":false},"axis":{"labelPadding":5,"values":[86,90,94,98,102,106,110,114,118,122,126,130,134,138,142,146,150,154,158,162,166,170,174,178,182],"labelExpr":"(datum.value-86)%20==0&&datum.value<180?datum.label:''"}}},"layer":[{"mark":{"type":"bar","width":6,"orient":"vertical"},"encoding":{"y":{"field":"o","type":"quantitative","title":null,"scale":{"domain":[0,0.15],"nice":false},"axis":{"values":[0,0.1],"format":".2~g"}}}},{"mark":"line","encoding":{"y":{"field":"p","type":"quantitative"}}},{"mark":{"type":"tick","orient":"horizontal"},"encoding":{"y":{"field":"p","type":"quantitative"}}}]}}
]},
{"width":18,"height":1,"data":{"values":[]},"mark":"point","encoding":{}},
{"spacing":11,"vconcat":[
{"transform":[{"filter":{"field":"yr","range":[2002,2007]}}],"facet":{"field":"yr","title":null},"columns":1,"bounds":"flush","spacing":27.7,"resolve":{"axis":{"x":"independent"}},"spec":{"width":150,"height":50,"encoding":{"x":{"field":"x","type":"quantitative","title":null,"scale":{"domain":[84,184],"nice":false},"axis":{"labels":false,"ticks":false}}},"layer":[{"mark":{"type":"bar","width":6,"orient":"vertical"},"encoding":{"y":{"field":"o","type":"quantitative","title":null,"scale":{"domain":[0,0.147],"nice":false},"axis":{"values":[0,0.1],"format":".2~g"}}}},{"mark":"line","encoding":{"y":{"field":"p","type":"quantitative"}}},{"mark":{"type":"tick","orient":"horizontal"},"encoding":{"y":{"field":"p","type":"quantitative"}}}]}},
{"transform":[{"filter":{"field":"yr","range":[2008,2008]}}],"facet":{"field":"yr","title":null},"columns":1,"bounds":"flush","spec":{"width":153,"height":41,"encoding":{"x":{"field":"x","type":"quantitative","title":null,"scale":{"domain":[84,184],"nice":false},"axis":{"labelPadding":5,"values":[86,90,94,98,102,106,110,114,118,122,126,130,134,138,142,146,150,154,158,162,166,170,174,178,182],"labelExpr":"(datum.value-86)%20==0&&datum.value<180?datum.label:''"}}},"layer":[{"mark":{"type":"bar","width":6,"orient":"vertical"},"encoding":{"y":{"field":"o","type":"quantitative","title":null,"scale":{"domain":[0,0.15],"nice":false},"axis":{"values":[0,0.1],"format":".2~g"}}}},{"mark":"line","encoding":{"y":{"field":"p","type":"quantitative"}}},{"mark":{"type":"tick","orient":"horizontal"},"encoding":{"y":{"field":"p","type":"quantitative"}}}]}}
]}
]}
]}
]}
